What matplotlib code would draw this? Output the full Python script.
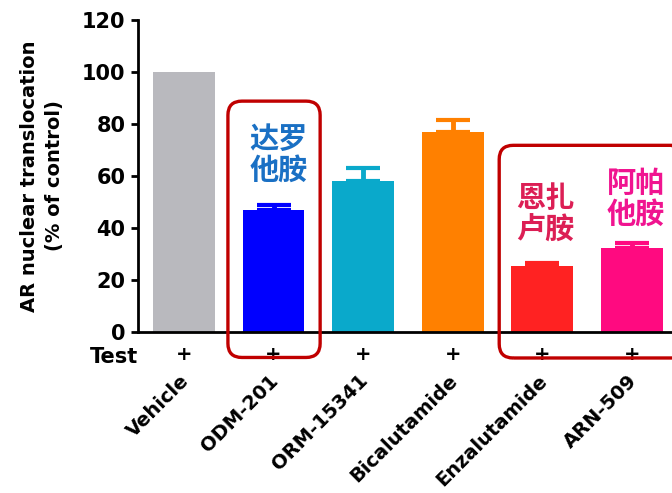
import matplotlib
matplotlib.use("Agg")
import matplotlib.pyplot as plt
from matplotlib.patches import FancyBboxPatch

plt.rcParams['font.family'] = ['DejaVu Sans']

categories = ["Vehicle", "ODM-201", "ORM-15341", "Bicalutamide", "Enzalutamide", "ARN-509"]
values = [100, 47, 58, 77, 25.5, 32.4]
errors = [0, 2, 5, 4.5, 1.2, 1.9]
bar_colors = ["#b9b9be", "#0000ff", "#0aa9cb", "#ff8000", "#ff2222", "#ff0a80"]
y_ticks = [0, 20, 40, 60, 80, 100, 120]

# Chinese drug names: (x position, y centre, text, colour)
cn_labels = [(1.056, 68.3, "达罗\n他胺", "#1a70c4"),
             (4.03, 45.4, "恩扎\n卢胺", "#dc1f55"),
             (5.05, 51.4, "阿帕\n他胺", "#f01490")]

fig = plt.figure(figsize=(6.72, 4.93), dpi=100)
ax = fig.add_axes([0.2054, 0.3266, 0.7946, 0.6328])

x = list(range(len(categories)))
ax.bar(x, values, width=0.69, color=bar_colors, zorder=2)
for xi, v, e, c in zip(x, values, errors, bar_colors):
    if e > 0:
        ax.errorbar(xi, v, yerr=[[0], [e]], fmt='none', ecolor=c, elinewidth=3.5,
                    capsize=12, capthick=3, zorder=1)

ax.set_xlim(-0.514, 5.45)
ax.set_ylim(0, 120)
ax.set_yticks(y_ticks)
ax.set_yticklabels([str(t) for t in y_ticks], fontsize=15, fontweight='bold')
ax.set_xticks([])
for s in ['top', 'right']:
    ax.spines[s].set_visible(False)
for s in ['left', 'bottom']:
    ax.spines[s].set_linewidth(2)
ax.tick_params(axis='y', direction='out', length=5, width=2, pad=4)

fig.text(42 / 672, 1 - 176 / 493, "AR nuclear translocation\n(% of control)",
         fontsize=14, fontweight='bold', rotation=90, ha='center', va='center',
         linespacing=1.45)

# "Test" row with plus markers
ax.text(-0.78, -9.5, "Test", fontsize=15, fontweight='bold', ha='center', va='center',
        clip_on=False)
for xi in x:
    ax.text(xi, -8.5, "+", fontsize=14, fontweight='bold', ha='center', va='center',
            clip_on=False)

# rotated category labels
for xi, name in zip(x, categories):
    ax.text(xi - 0.05, -15.0, name, fontsize=14, fontweight='bold', rotation=45,
            ha='right', va='top', rotation_mode='anchor', clip_on=False)

for xc, yc, txt, col in cn_labels:
    ax.text(xc, yc, txt, fontsize=21, fontweight='bold', color=col,
            ha='center', va='center', linespacing=1.05,
            family=['Noto Sans CJK SC', 'DejaVu Sans'])

# red highlight frames, drawn in display pixels
fig.canvas.draw()
def frame(x0, x1, y0, y1):
    p0 = ax.transData.transform((x0, y0))
    p1 = ax.transData.transform((x1, y1))
    box = FancyBboxPatch((p0[0], p0[1]), p1[0] - p0[0], p1[1] - p0[1],
                         boxstyle="round,pad=0,rounding_size=14",
                         transform=None, fill=False, edgecolor="#c00000",
                         linewidth=2.4, clip_on=False, zorder=5)
    fig.patches.append(box)

frame(0.49, 1.52, -9.8, 88.8)
frame(3.52, 5.6, -10.0, 71.8)

fig.savefig("out.png", dpi=100)
